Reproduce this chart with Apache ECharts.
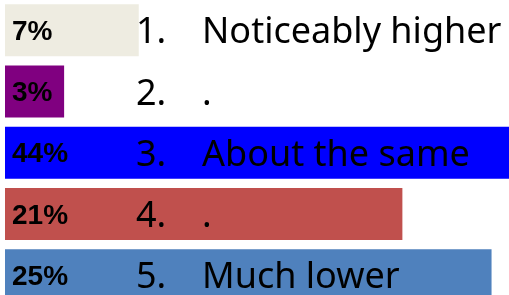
<!DOCTYPE html>
<html>
<head>
<meta charset="utf-8">
<script src="https://cdn.jsdelivr.net/npm/echarts@6/dist/echarts.min.js"></script>
<style>
html,body{margin:0;padding:0;background:#fff;}
#chart{width:509px;height:295px;}
</style>
</head>
<body>
<div id="chart"></div>
<script>
var itemNumbers = ['1.', '2.', '3.', '4.', '5.'];
var categories = ['Noticeably higher', '.', 'About the same', '.', 'Much lower'];
var shares = [6.9, 3.05, 44, 20.5, 25.1];
var barColors = ['#EEECE1', '#800080', '#0000FF', '#C0504D', '#4F81BD'];

var chart = echarts.init(document.getElementById('chart'), null, {renderer: 'canvas'});
var catKeys = categories.map(function (c, i) { return itemNumbers[i] + '|' + c; });

chart.setOption({
  animation: false,
  grid: {left: 5, right: 0, top: -0.5, height: 306.25, containLabel: false, outerBoundsMode: 'none'},
  xAxis: {
    type: 'value', min: 0, max: 26,
    show: false
  },
  yAxis: {
    type: 'category',
    inverse: true,
    data: catKeys,
    z: 10,
    axisLine: {show: false},
    axisTick: {show: false},
    splitLine: {show: false},
    axisLabel: {
      inside: true,
      margin: 131,
      align: 'left',
      formatter: function (v) {
        var p = v.split('|');
        return '{n|' + p[0] + '}{t|' + p[1] + '}';
      },
      rich: {
        n: {width: 66, fontFamily: 'Noto Sans', fontSize: 36, color: '#000', padding: [6, 0, 0, 0]},
        t: {fontFamily: 'Noto Sans', fontSize: 36, color: '#000', padding: [6, 0, 0, 0]}
      }
    }
  },
  series: [{
    type: 'bar',
    barWidth: 52,
    clip: true,
    data: shares.map(function (v, i) {
      return {value: v, itemStyle: {color: barColors[i]}};
    }),
    label: {
      show: true,
      position: 'insideLeft',
      distance: 7,
      offset: [0, 2],
      formatter: function (p) { return Math.round(p.value) + '%'; },
      fontFamily: 'Liberation Sans',
      fontWeight: 'bold',
      fontSize: 28,
      color: '#000'
    }
  }]
});
</script>
</body>
</html>
